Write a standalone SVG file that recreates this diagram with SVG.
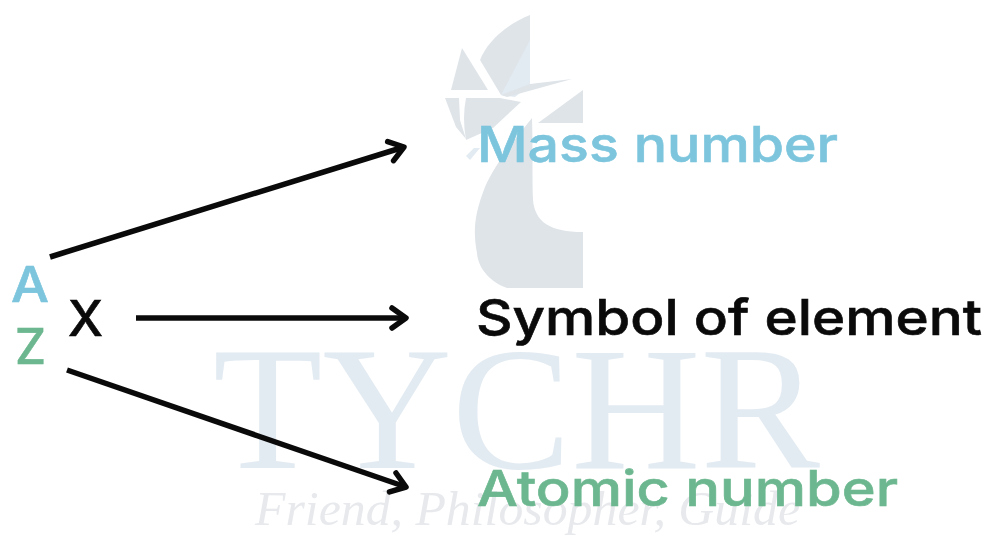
<svg xmlns="http://www.w3.org/2000/svg" width="988" height="536" viewBox="0 0 988 536">
<style>
.l{font-family:"Inter","Liberation Sans",sans-serif;font-weight:500;font-size:50px;stroke-width:.6px}
.a{fill:#7cc5dd;stroke:#7cc5dd}.z{fill:#6cb78f;stroke:#6cb78f}.k{fill:#0a0a0a;stroke:#0a0a0a}
.w{font-family:"Liberation Serif",serif}
.c{fill:none;stroke:#0a0a0a;stroke-width:5.500}
.g{fill:#dfe4e9}.b{fill:#e2ebf2}
</style>
<defs>
<marker id="h" markerUnits="userSpaceOnUse" markerWidth="30" markerHeight="30" refX="18" refY="15" orient="auto">
<path d="M4 5L18 15L4 25" fill="none" stroke="#0a0a0a" stroke-width="5.500" stroke-linecap="round" stroke-linejoin="round"/>
</marker>
</defs>
<rect width="988" height="536" fill="#fff"/>
<g id="watermark">
<path class="g" d="M530 15C505 25 487 42 480 60L501 95L530 85Z"/>
<path class="b" d="M530 40V85L515 97L501 95Z"/>
<path class="g" d="M530 84L572 79L507 97L501 95Z"/>
<path class="g" d="M462 48L451 90H488Z"/>
<path class="g" d="M445 98H459L460 120L466 139L456 127Z"/>
<path class="b" d="M466 156L474 148L480 148L470 160Z"/>
<path class="g" d="M466 98H500L521 102L493 128L466 140Q462 118 466 98Z"/>
<path class="g" d="M583 90V123H538Z"/>
<path class="g" d="M532 118C533 150 532 180 533 200C535 222 550 232 583 232V288H507C490 282 478 268 477 253C473 232 474 215 485 187C495 165 510 145 532 118Z"/>
<text class="w" x="213" y="468" font-size="176" fill="#e3ebf2" textLength="607" lengthAdjust="spacingAndGlyphs">TYCHR</text>
<text class="w" x="255" y="525" font-size="48" font-style="italic" fill="#e7e9ec" textLength="545" lengthAdjust="spacingAndGlyphs">Friend, Philosopher, Guide</text>
</g>
<g id="connectors">
<path class="c" d="M50 257L404 147" marker-end="url(#h)"/>
<path class="c" d="M136 318H406" marker-end="url(#h)"/>
<path class="c" d="M67 370L406 487" marker-end="url(#h)"/>
</g>
<g id="symbol-a"><text class="l a" x="11" y="302" textLength="38" lengthAdjust="spacingAndGlyphs">A</text></g>
<g id="symbol-x"><text class="l k" x="68" y="336" textLength="35" lengthAdjust="spacingAndGlyphs">X</text></g>
<g id="symbol-z"><text class="l z" x="15" y="364" textLength="31" lengthAdjust="spacingAndGlyphs">Z</text></g>
<g id="mass-number"><text class="l a" x="477" y="162" textLength="361" lengthAdjust="spacingAndGlyphs">Mass number</text></g>
<g id="symbol-of-element"><text class="l k" x="476" y="335" textLength="506" lengthAdjust="spacingAndGlyphs">Symbol of element</text></g>
<g id="atomic-number"><text class="l z" x="477" y="506" textLength="421" lengthAdjust="spacingAndGlyphs">Atomic number</text></g>
</svg>
